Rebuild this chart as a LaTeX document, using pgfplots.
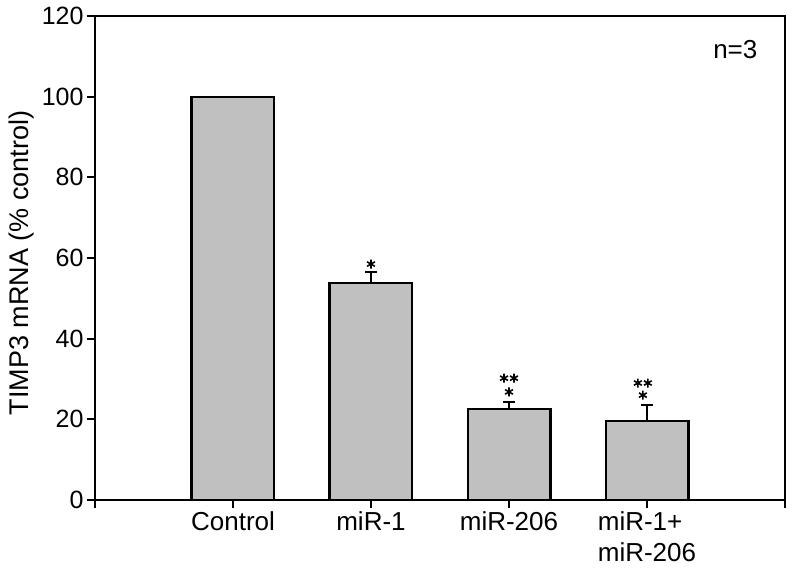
\documentclass[border=0pt]{standalone}
\usepackage{fontspec}
\setmainfont{Liberation Sans}
\usepackage{pgfplots}
\pgfplotsset{compat=1.18}
\definecolor{barfill}{RGB}{192,192,192}

\begin{document}
\begin{tikzpicture}
\begin{axis}[
    scale only axis,
    width=690pt, height=484pt,
    xmin=-1, xmax=4, ymin=0, ymax=120,
    ytick={0,20,...,120},
    xtick={0,1,2,3},
    xticklabels={Control, miR-1, miR-206, {miR-1+\\miR-206}},
    extra x ticks={-1,4}, extra x tick labels={},
    xtick pos=bottom, ytick pos=left, tick align=outside,
    major tick length=8pt,
    axis line style={line width=2pt},
    every tick/.style={black, line width=2pt},
    tick label style={font=\fontsize{25}{30}\selectfont},
    xticklabel style={align=left, font=\fontsize{26}{31}\selectfont},
    ylabel={TIMP3 mRNA (\% control)},
    ylabel style={font=\fontsize{27}{32}\selectfont, at={(axis description cs:-0.106,0.49)}, anchor=center},
    /pgf/number format/assume math mode=true,
    ybar, bar width=0.6,
    clip=false,
]
% mean +- SEM (upper half only)
\addplot[fill=barfill, draw=black, line width=2.2pt,
    error bars/.cd, y dir=plus, y explicit,
    error bar style={line width=2pt, black},
    error mark options={rotate=90, line width=2pt, black, mark size=6pt}]
  coordinates {(0,100) +- (0,0) (1,53.8) +- (0,2.7) (2,22.6) +- (0,1.7) (3,19.6) +- (0,3.9)};

% significance marks
\addplot[xbar=0pt, only marks, mark=asterisk, mark size=4.5pt, line width=1.6pt, black, forget plot]
  coordinates {(1,58.5) (1.964,30.2) (2.036,30.2) (2,26.8) (2.934,29.0) (3.006,29.0) (2.97,26.0)};

\node[font=\fontsize{26}{31}\selectfont] at (axis cs:3.64,111.6) {n=3};
\end{axis}
\pgfresetboundingbox
\path (-95pt,-70pt) rectangle (703pt,500pt);
\end{tikzpicture}
\end{document}
